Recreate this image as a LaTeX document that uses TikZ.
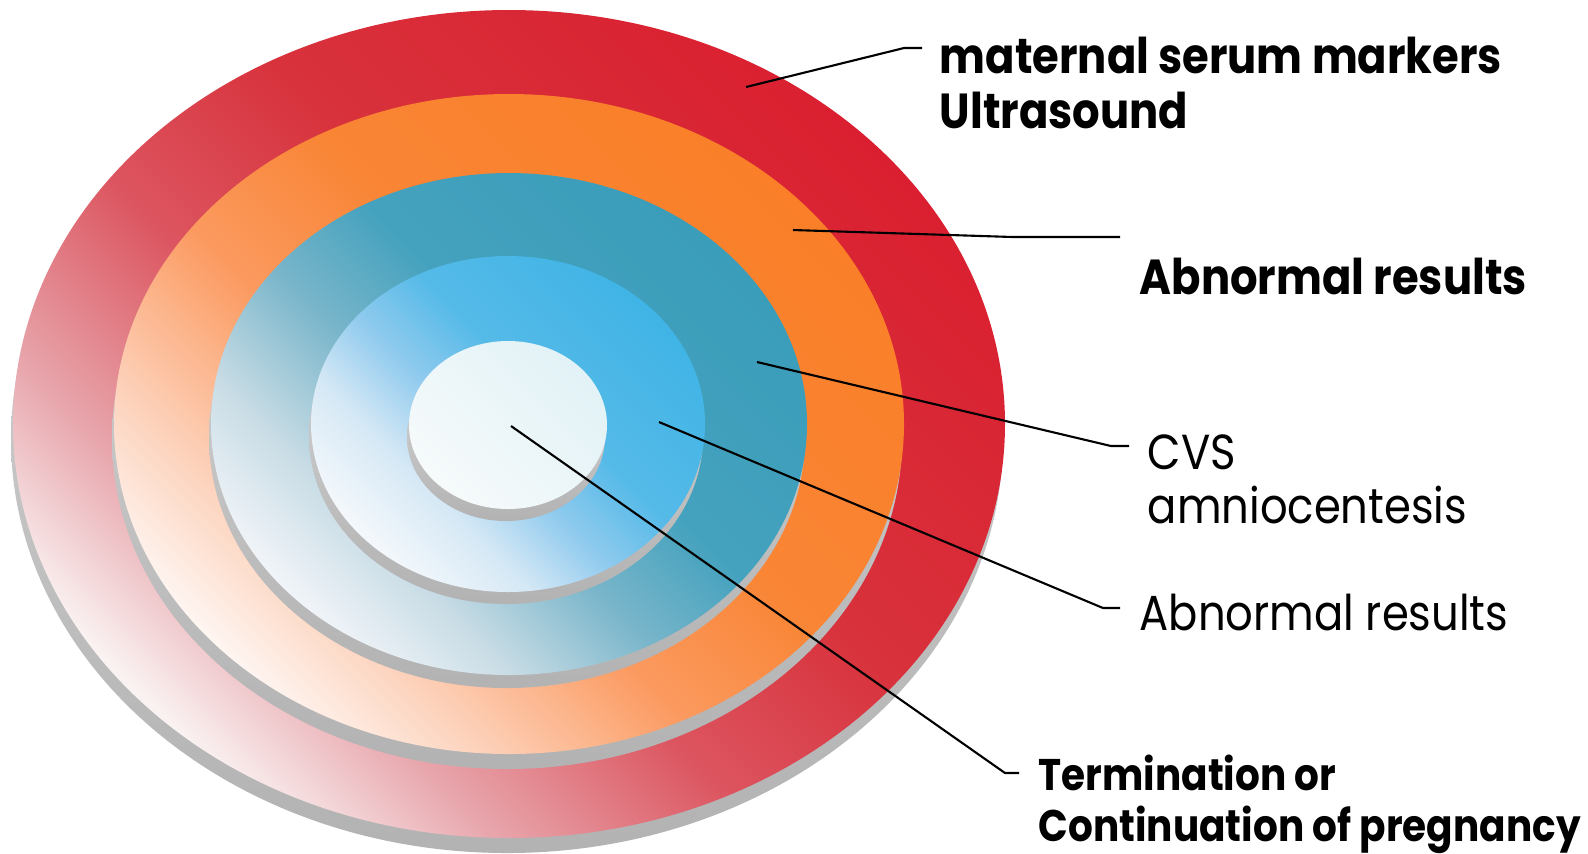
\documentclass[tikz,border=0pt]{standalone}
\usepackage{fontspec}
\setmainfont{Poppins}[FakeStretch=0.88]
\definecolor{r0}{HTML}{FAF2F2}\definecolor{r1}{HTML}{E8A8AE}\definecolor{r2}{HTML}{DC5560}\definecolor{r3}{HTML}{D8323C}\definecolor{r4}{HTML}{DA2030}
\definecolor{o0}{HTML}{FEF4F0}\definecolor{o1}{HTML}{FDD0B8}\definecolor{o2}{HTML}{FB9A60}\definecolor{o3}{HTML}{F98535}\definecolor{o4}{HTML}{FA7F28}
\definecolor{t0}{HTML}{F0F4F8}\definecolor{t1}{HTML}{C8DCE5}\definecolor{t2}{HTML}{78B5CA}\definecolor{t3}{HTML}{45A2BE}\definecolor{t4}{HTML}{3A9DBA}
\definecolor{b0}{HTML}{F4F8FC}\definecolor{b1}{HTML}{D5E8F5}\definecolor{b2}{HTML}{8FCAEE}\definecolor{b3}{HTML}{55BAE8}\definecolor{b4}{HTML}{40B4E6}
\definecolor{w0}{HTML}{F6FAFB}\definecolor{w1}{HTML}{E2F2F6}
\pgfdeclareverticalshading{redsh}{100bp}{color(0bp)=(r0); color(25bp)=(r0); color(33bp)=(r1); color(44bp)=(r2); color(55bp)=(r3); color(75bp)=(r4); color(100bp)=(r4)}
\pgfdeclareverticalshading{orsh}{100bp}{color(0bp)=(o0); color(25bp)=(o0); color(33bp)=(o1); color(44bp)=(o2); color(55bp)=(o3); color(75bp)=(o4); color(100bp)=(o4)}
\pgfdeclareverticalshading{tesh}{100bp}{color(0bp)=(t0); color(25bp)=(t0); color(34bp)=(t1); color(45bp)=(t2); color(55bp)=(t3); color(75bp)=(t4); color(100bp)=(t4)}
\pgfdeclareverticalshading{blsh}{100bp}{color(0bp)=(b0); color(25bp)=(b0); color(36bp)=(b1); color(46bp)=(b2); color(56bp)=(b3); color(75bp)=(b4); color(100bp)=(b4)}
\pgfdeclareverticalshading{whsh}{100bp}{color(0bp)=(w0); color(25bp)=(w0); color(75bp)=(w1); color(100bp)=(w1)}
\tikzset{
  edge/.style={top color=gray!30, bottom color=gray!60},
  face/.style={shading=#1, shading angle=-45},
  leader/.style={draw=black, line width=0.6pt},
  lab/.style={anchor=base west, inner sep=0pt, font=\fontsize{14}{#1}\selectfont},
  boldlab/.style={anchor=base west, inner sep=0pt, font=\fontsize{14}{#1}\selectfont\bfseries},
  smallbold/.style={anchor=base west, inner sep=0pt, font=\fontsize{12.6}{#1}\selectfont\bfseries}
}
\begin{document}
\begin{tikzpicture}[x=0.01cm, y=-0.01cm]
\useasboundingbox (0,0) rectangle (1588,853);
% discs: edge then face
\shade[edge] (507,439) ellipse [x radius=496, y radius=414];
\shade[face=redsh] (509,424) ellipse [x radius=496, y radius=414];
\shade[edge] (507,439) ellipse [x radius=395, y radius=330];
\shade[face=orsh] (509,424) ellipse [x radius=395, y radius=330];
\shade[edge] (507,437) ellipse [x radius=298, y radius=251];
\shade[face=tesh] (509,424) ellipse [x radius=298, y radius=251];
\shade[edge] (506,436) ellipse [x radius=197, y radius=168];
\shade[face=blsh] (508,424) ellipse [x radius=197, y radius=168];
\shade[edge] (506,437) ellipse [x radius=99, y radius=84];
\shade[face=whsh] (508,425) ellipse [x radius=99, y radius=84];
% anchor points on the discs
\coordinate (s1) at (746,87);
\coordinate (s2) at (793,230);
\coordinate (s3) at (757,362);
\coordinate (s4) at (659,422);
\coordinate (s5) at (511,426);
\coordinate (k1) at (904,48);   \coordinate (e1) at (922,48);
\coordinate (k2) at (1013,237); \coordinate (e2) at (1120,237);
\coordinate (k3) at (1111,446); \coordinate (e3) at (1129,446);
\coordinate (k4) at (1103,608); \coordinate (e4) at (1120,608);
\coordinate (k5) at (1005,773); \coordinate (e5) at (1019,773);
% labels
\node[boldlab=15.9] (l1) at (939,73) {\begin{tabular}[t]{@{}l@{}}maternal serum markers\\Ultrasound\end{tabular}};
\node[boldlab=15.9] (l2) at (1139,294) {Abnormal results};
\node[lab=15.6] (l3) at (1147,469) {\begin{tabular}[t]{@{}l@{}}CVS\\amniocentesis\end{tabular}};
\node[lab=15.6] (l4) at (1139,630) {Abnormal results};
\node[smallbold=14.5] (l5) at (1038,790) {\begin{tabular}[t]{@{}l@{}}Termination or\\Continuation of pregnancy\end{tabular}};
% leaders
\draw[leader] (s1) -- (k1) -- (e1);
\draw[leader] (s2) -- (k2) -- (e2);
\draw[leader] (s3) -- (k3) -- (e3);
\draw[leader] (s4) -- (k4) -- (e4);
\draw[leader] (s5) -- (k5) -- (e5);
\end{tikzpicture}
\end{document}
